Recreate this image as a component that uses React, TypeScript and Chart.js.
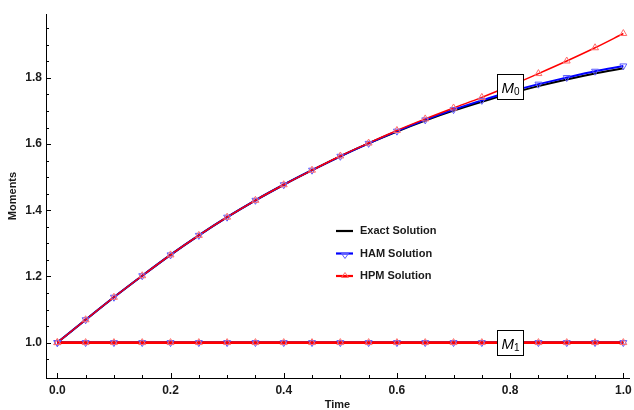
import React, { useEffect, useRef } from 'react';
import { Chart, registerables } from 'chart.js';

Chart.register(...registerables);

// ---- data ----
const times = [0, 0.05, 0.1, 0.15, 0.2, 0.25, 0.3, 0.35, 0.4, 0.45, 0.5, 0.55, 0.6, 0.65, 0.7, 0.75, 0.8, 0.85, 0.9, 0.95, 1.0];
const exactM0 = [1.0, 1.069, 1.137, 1.202, 1.265, 1.324, 1.379, 1.43, 1.477, 1.521, 1.563, 1.602, 1.638, 1.671, 1.701, 1.728, 1.753, 1.775, 1.795, 1.813, 1.829];
const hamM0 = [1.0, 1.069, 1.137, 1.202, 1.265, 1.324, 1.379, 1.43, 1.477, 1.521, 1.563, 1.602, 1.639, 1.673, 1.704, 1.732, 1.758, 1.781, 1.801, 1.82, 1.836];
const hpmM0 = [1.0, 1.069, 1.137, 1.202, 1.265, 1.324, 1.379, 1.43, 1.477, 1.521, 1.564, 1.603, 1.641, 1.676, 1.709, 1.741, 1.776, 1.813, 1.851, 1.891, 1.934];
const exactM1 = [1, 1, 1, 1, 1, 1, 1, 1, 1, 1, 1, 1, 1, 1, 1, 1, 1, 1, 1, 1, 1];
const hamM1 = [1, 1, 1, 1, 1, 1, 1, 1, 1, 1, 1, 1, 1, 1, 1, 1, 1, 1, 1, 1, 1];
const hpmM1 = [1, 1, 1, 1, 1, 1, 1, 1, 1, 1, 1, 1, 1, 1, 1, 1, 1, 1, 1, 1, 1];

const xMajorTicks = [0, 0.2, 0.4, 0.6, 0.8, 1.0];
const xAllTicks = [0, 0.05, 0.1, 0.15, 0.2, 0.25, 0.3, 0.35, 0.4, 0.45, 0.5, 0.55, 0.6, 0.65, 0.7, 0.75, 0.8, 0.85, 0.9, 0.95, 1.0];
const yMajorTicks = [1.0, 1.2, 1.4, 1.6, 1.8];
const yAllTicks = [0.95, 1.0, 1.05, 1.1, 1.15, 1.2, 1.25, 1.3, 1.35, 1.4, 1.45, 1.5, 1.55, 1.6, 1.65, 1.7, 1.75, 1.8, 1.85, 1.9, 1.95];

const legendLabels = ['Exact Solution', 'HAM Solution', 'HPM Solution'];
const xTitle = 'Time';
const yTitle = 'Moments';
const curveLabels = [
  { name: 'M', sub: '0', t: 0.8, v: 1.775 },
  { name: 'M', sub: '1', t: 0.8, v: 1.0 },
];

const FONT = "'Liberation Sans', Arial, sans-serif";
const BLACK = '#000000';
const BLUE = '#0000ff';
const RED = '#ff0000';
const BLUE_MK = '#5a5aff';
const RED_MK = '#ff6a6a';

const pts = (ys: number[]) => times.map((t, i) => ({ x: t, y: ys[i] }));

const overlayPlugin = {
  id: 'overlay',
  afterDraw(chart: any) {
    const ctx = chart.ctx as CanvasRenderingContext2D;
    const xs = chart.scales.x;
    const ys = chart.scales.y;
    const area = chart.chartArea;
    ctx.save();
    // inward ticks
    ctx.strokeStyle = '#000';
    ctx.lineWidth = 1;
    ctx.beginPath();
    xAllTicks.forEach((v) => {
      const major = xMajorTicks.some((m) => Math.abs(m - v) < 1e-9);
      const px = Math.round(xs.getPixelForValue(v)) + 0.5;
      ctx.moveTo(px, area.bottom);
      ctx.lineTo(px, area.bottom - (major ? 5 : 3));
    });
    yAllTicks.forEach((v) => {
      const major = yMajorTicks.some((m) => Math.abs(m - v) < 1e-9);
      const py = Math.round(ys.getPixelForValue(v)) + 0.5;
      ctx.moveTo(area.left, py);
      ctx.lineTo(area.left + (major ? 5 : 3), py);
    });
    ctx.stroke();

    // axis titles
    ctx.fillStyle = '#1a1a1a';
    ctx.font = `bold 11px ${FONT}`;
    ctx.textAlign = 'center';
    ctx.textBaseline = 'middle';
    ctx.fillText(xTitle, (area.left + area.right) / 2, 405);
    ctx.save();
    ctx.translate(13, 196);
    ctx.rotate(-Math.PI / 2);
    ctx.fillText(yTitle, 0, 0);
    ctx.restore();

    // legend
    const rows = [231, 253.5, 276];
    const colors = [BLACK, BLUE, RED];
    legendLabels.forEach((lab, i) => {
      const y = rows[i];
      ctx.strokeStyle = colors[i];
      ctx.lineWidth = 2.2;
      ctx.beginPath();
      ctx.moveTo(336, y);
      ctx.lineTo(353, y);
      ctx.stroke();
      if (i === 1) {
        ctx.strokeStyle = BLUE_MK;
        ctx.lineWidth = 1;
        ctx.beginPath();
        ctx.moveTo(341.5, y);
        ctx.lineTo(348.5, y);
        ctx.lineTo(345, y + 5);
        ctx.closePath();
        ctx.stroke();
      } else if (i === 2) {
        ctx.strokeStyle = RED_MK;
        ctx.lineWidth = 1;
        ctx.beginPath();
        ctx.moveTo(341.5, y + 1.5);
        ctx.lineTo(348.5, y + 1.5);
        ctx.lineTo(345, y - 3.5);
        ctx.closePath();
        ctx.stroke();
      }
      ctx.fillStyle = '#1a1a1a';
      ctx.font = `bold 11px ${FONT}`;
      ctx.textAlign = 'left';
      ctx.textBaseline = 'middle';
      ctx.fillText(lab, 360, y);
    });

    // curve labels
    curveLabels.forEach((c) => {
      const cx = xs.getPixelForValue(c.t);
      const cy = ys.getPixelForValue(c.v);
      const w = 26;
      const h = 25;
      const x0 = Math.round(cx - w / 2) + 0.5;
      const y0 = Math.round(cy - h / 2) + 0.5;
      ctx.fillStyle = '#ffffff';
      ctx.fillRect(x0, y0, w, h);
      ctx.strokeStyle = '#000';
      ctx.lineWidth = 1;
      ctx.strokeRect(x0, y0, w, h);
      ctx.fillStyle = '#000';
      ctx.textAlign = 'left';
      ctx.textBaseline = 'alphabetic';
      ctx.font = `italic 15px ${FONT}`;
      ctx.fillText(c.name, x0 + 4, y0 + 18);
      const mw = ctx.measureText(c.name).width;
      ctx.font = `10px ${FONT}`;
      ctx.fillText(c.sub, x0 + 4 + mw, y0 + 20);
    });
    ctx.restore();
  },
};

export default function App() {
  const canvasRef = useRef<HTMLCanvasElement>(null);

  useEffect(() => {
    document.body.style.margin = '0';
    const canvas = canvasRef.current;
    if (!canvas) return;
    const lineDs = (label: string, ys: number[], color: string, width: number, order: number, smooth: boolean) => ({
      label,
      data: pts(ys),
      borderColor: color,
      borderWidth: width,
      pointRadius: 0,
      fill: false,
      order,
      cubicInterpolationMode: smooth ? 'monotone' : 'default',
    });
    const markerDs = (label: string, ys: number[], color: string, rotation: number, order: number) => ({
      label,
      data: pts(ys),
      showLine: false,
      pointStyle: 'triangle',
      pointRadius: 4,
      pointRotation: rotation,
      pointBorderColor: color,
      pointBackgroundColor: 'rgba(0,0,0,0)',
      pointBorderWidth: 1,
      borderColor: color,
      backgroundColor: 'rgba(0,0,0,0)',
      order,
    });

    const chart = new Chart(canvas, {
      type: 'line',
      data: {
        datasets: [
          markerDs('HPM M0 markers', hpmM0, RED_MK, 0, 1),
          markerDs('HAM M0 markers', hamM0, BLUE_MK, 180, 2),
          markerDs('HPM M1 markers', hpmM1, RED_MK, 0, 3),
          markerDs('HAM M1 markers', hamM1, BLUE_MK, 180, 4),
          lineDs('HPM M0', hpmM0, RED, 1.5, 5, true),
          lineDs('HPM M1', hpmM1, RED, 2.8, 6, false),
          lineDs('HAM M0', hamM0, BLUE, 2, 7, true),
          lineDs('HAM M1', hamM1, BLUE, 2, 8, false),
          lineDs('Exact M0', exactM0, BLACK, 2, 9, true),
          lineDs('Exact M1', exactM1, BLACK, 2, 10, false),
        ] as any,
      },
      options: {
        animation: false,
        responsive: false,
        events: [],
        layout: { padding: { top: 14, right: 2, left: 0, bottom: 0 } },
        plugins: {
          legend: { display: false },
          tooltip: { enabled: false },
        },
        scales: {
          x: {
            type: 'linear',
            min: -0.02,
            max: 1.01,
            grid: { display: false, drawTicks: false },
            border: { display: true, color: '#000', width: 1 },
            ticks: {
              font: { family: FONT, weight: 'bold', size: 12 },
              color: '#1a1a1a',
              padding: 5,
              maxRotation: 0,
              callback: (v: any) => Number(v).toFixed(1),
            },
            afterBuildTicks: (scale: any) => {
              scale.ticks = xMajorTicks.map((v) => ({ value: v }));
            },
            afterFit: (scale: any) => {
              scale.height = 32;
              scale.paddingLeft = 0;
              scale.paddingRight = 0;
            },
          },
          y: {
            type: 'linear',
            min: 0.893,
            max: 1.993,
            grid: { display: false, drawTicks: false },
            border: { display: true, color: '#000', width: 1 },
            ticks: {
              font: { family: FONT, weight: 'bold', size: 12 },
              color: '#1a1a1a',
              padding: 4,
              callback: (v: any) => Number(v).toFixed(1),
            },
            afterBuildTicks: (scale: any) => {
              scale.ticks = yMajorTicks.map((v) => ({ value: v }));
            },
            afterFit: (scale: any) => {
              scale.width = 46;
              scale.paddingTop = 0;
              scale.paddingBottom = 0;
            },
          },
        },
      } as any,
      plugins: [overlayPlugin],
    });
    return () => chart.destroy();
  }, []);

  return (
    <div style={{ width: 634, height: 410, background: '#fff' }}>
      <canvas ref={canvasRef} width={634} height={410} style={{ display: 'block', width: 634, height: 410 }} />
    </div>
  );
}
